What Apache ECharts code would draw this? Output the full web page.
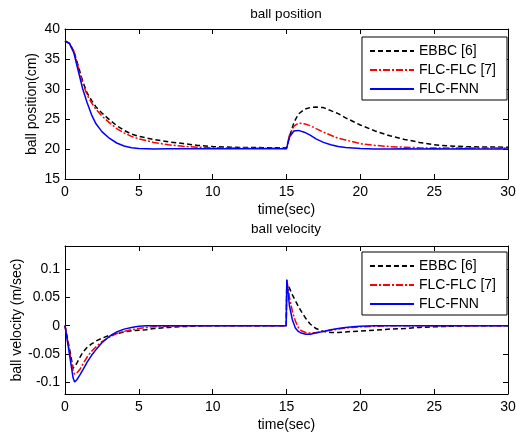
<!DOCTYPE html>
<html>
<head>
<meta charset="utf-8">
<script src="https://cdn.jsdelivr.net/npm/echarts@6/dist/echarts.min.js"></script>
<style>html,body{margin:0;padding:0;background:#fff;}#c{width:517px;height:438px;}</style>
</head>
<body>
<div id="c"></div>
<script>
// ---- data ----
const seriesNames = ['EBBC [6]', 'FLC-FLC [7]', 'FLC-FNN'];
const posTime = [0,0.3,0.6,0.9,1.2,1.5,1.8,2.1,2.5,3,3.5,4,4.5,5,6,7,8,9,10,12,15,15.2,15.5,15.8,16.2,16.6,17,17.5,18,18.5,19,20,21,22,23,24,25,26,27,28,30];
const posEBBC = [38.0,37.6,36.3,33.8,31.3,29.3,28.1,27.0,26.0,24.9,23.9,23.1,22.5,22.1,21.6,21.2,20.9,20.6,20.4,20.25,20.2,22.0,24.4,25.8,26.6,26.9,27.0,26.9,26.4,25.9,25.2,24.0,23.0,22.2,21.6,21.1,20.7,20.5,20.4,20.35,20.3];
const posFLC = [38.0,37.6,36.3,33.6,31.0,29.0,27.7,26.6,25.5,24.4,23.4,22.7,22.1,21.7,21.1,20.7,20.45,20.3,20.2,20.15,20.1,22.3,23.8,24.3,24.2,23.9,23.4,22.8,22.3,21.8,21.5,20.9,20.6,20.4,20.3,20.2,20.15,20.15,20.15,20.15,20.15];
const posFNN = [38.0,37.6,36.0,33.0,30.0,27.7,25.7,24.2,22.9,21.8,21.0,20.5,20.2,20.1,20.0,20.05,20.05,20.05,20.05,20.05,20.05,22.0,23.0,23.1,22.8,22.3,21.7,21.1,20.7,20.4,20.25,20.1,20.0,20.0,20.05,20.0,20.05,20.0,20.05,20.0,20.0];

const velTime = [0,0.3,0.55,0.65,0.8,1,1.2,1.5,1.8,2.1,2.5,3,3.5,4,4.5,5,5.5,6,7,8,9,10,14.98,15.02,15.2,15.4,15.6,15.8,16,16.3,16.6,17,17.5,18,18.5,19,19.5,20,21,22,23,24,25,26,28,30];
const velEBBC = [0,-0.04,-0.075,-0.073,-0.066,-0.056,-0.047,-0.038,-0.032,-0.027,-0.022,-0.017,-0.014,-0.011,-0.009,-0.008,-0.007,-0.005,-0.003,-0.0015,-0.0005,0,0,0.076,0.066,0.054,0.044,0.034,0.025,0.013,0.003,-0.005,-0.010,-0.012,-0.012,-0.011,-0.010,-0.0095,-0.008,-0.006,-0.005,-0.003,-0.002,-0.001,0,0];
const velFLC = [0,-0.045,-0.08,-0.085,-0.083,-0.077,-0.068,-0.055,-0.045,-0.037,-0.028,-0.020,-0.014,-0.010,-0.007,-0.005,-0.003,-0.002,-0.001,0,0,0,0,0.08,0.05,0.025,0.008,-0.003,-0.009,-0.012,-0.013,-0.012,-0.010,-0.008,-0.006,-0.004,-0.003,-0.002,-0.001,0,0,0,0,0,0,0];
const velFNN = [0,-0.05,-0.092,-0.099,-0.095,-0.087,-0.078,-0.064,-0.052,-0.042,-0.030,-0.019,-0.011,-0.006,-0.003,-0.001,0,0,0,0,0,0,0,0.081,0.035,0.010,-0.004,-0.010,-0.013,-0.015,-0.015,-0.013,-0.010,-0.007,-0.005,-0.003,-0.002,-0.001,0,0,0,0,0,0,0,0];

const xTicks = [0,5,10,15,20,25,30];
const posTicks = [15,20,25,30,35,40];
const velTicks = [-0.1,-0.05,0,0.05,0.1];

// ---- chart ----
const FONT = 'Liberation Sans, Arial, Helvetica, sans-serif';
const colors = ['#000000', '#ff0000', '#0000ff'];
const dashes = [[5,3], [7,2,2,2], 'solid'];

function pairs(t, v) { return t.map((x, i) => [x, v[i]]); }

function xAx(grid, bottom) {
  return {
    type: 'value', gridIndex: grid, min: 0, max: 30,
    position: bottom ? 'bottom' : 'top',
    name: bottom ? 'time(sec)' : '', nameLocation: 'middle', nameGap: 24, nameMoveOverlap: false,
    nameTextStyle: { fontFamily: FONT, fontSize: 14, color: '#000' },
    axisLine: { show: true, onZero: false, lineStyle: { color: '#000', width: 1 } },
    axisTick: { show: true, inside: true, length: 5, lineStyle: { color: '#000' }, customValues: xTicks },
    axisLabel: { show: bottom, fontFamily: FONT, fontSize: 14, color: '#000', margin: 6, customValues: xTicks },
    splitLine: { show: false }
  };
}
function yAx(grid, left, min, max, ticks, name, gap) {
  return {
    type: 'value', gridIndex: grid, min: min, max: max,
    position: left ? 'left' : 'right',
    name: left ? name : '', nameLocation: 'middle', nameGap: gap, nameMoveOverlap: false,
    nameTextStyle: { fontFamily: FONT, fontSize: 14, color: '#000' },
    axisLine: { show: true, onZero: false, lineStyle: { color: '#000', width: 1 } },
    axisTick: { show: true, inside: true, length: 5, lineStyle: { color: '#000' }, customValues: ticks },
    axisLabel: { show: left, fontFamily: FONT, fontSize: 14, color: '#000', margin: 5, customValues: ticks },
    splitLine: { show: false }
  };
}

const posData = [posEBBC, posFLC, posFNN];
const velData = [velEBBC, velFLC, velFNN];
const series = [];
seriesNames.forEach((n, i) => {
  series.push({
    name: n, type: 'line', xAxisIndex: 0, yAxisIndex: 0, showSymbol: false, symbol: 'none',
    data: pairs(posTime, posData[i]), animation: false,
    lineStyle: { color: colors[i], width: 1.5, type: dashes[i] }, itemStyle: { color: colors[i] }
  });
});
seriesNames.forEach((n, i) => {
  series.push({
    name: n, type: 'line', xAxisIndex: 2, yAxisIndex: 2, showSymbol: false, symbol: 'none',
    data: pairs(velTime, velData[i]), animation: false,
    lineStyle: { color: colors[i], width: 1.5, type: dashes[i] }, itemStyle: { color: colors[i] }
  });
});

function legend(top) {
  return {
    data: seriesNames, orient: 'vertical', right: 10, top: top,
    backgroundColor: '#fff', borderColor: '#000', borderWidth: 1, borderRadius: 0,
    padding: [7, 11, 4, 7], itemWidth: 44, itemHeight: 14, itemGap: 5,
    itemStyle: { color: 'rgba(0,0,0,0)', borderWidth: 0, opacity: 0 },
    textStyle: { fontFamily: FONT, fontSize: 14, color: '#000' },
    selectedMode: false
  };
}

const chart = echarts.init(document.getElementById('c'), null, { renderer: 'canvas' });
chart.setOption({
  animation: false,
  backgroundColor: '#fff',
  title: [
    { text: 'ball position', left: 286, top: 7, textAlign: 'center', padding: 0,
      textStyle: { fontFamily: FONT, fontSize: 13.5, fontWeight: 'normal', color: '#000' } },
    { text: 'ball velocity', left: 286, top: 222, textAlign: 'center', padding: 0,
      textStyle: { fontFamily: FONT, fontSize: 13.5, fontWeight: 'normal', color: '#000' } }
  ],
  legend: [legend(37), legend(252)],
  grid: [
    { left: 65, top: 29, width: 443, height: 150, outerBoundsMode: 'none', containLabel: false },
    { left: 65, top: 246, width: 443, height: 148, outerBoundsMode: 'none', containLabel: false }
  ],
  xAxis: [xAx(0, true), xAx(0, false), xAx(1, true), xAx(1, false)],
  yAxis: [
    yAx(0, true, 15, 40, posTicks, 'ball position(cm)', 26),
    yAx(0, false, 15, 40, posTicks, '', 0),
    yAx(1, true, -0.12, 0.14, velTicks, 'ball velocity (m/sec)', 41),
    yAx(1, false, -0.12, 0.14, velTicks, '', 0)
  ],
  series: series
});
</script>
</body>
</html>
